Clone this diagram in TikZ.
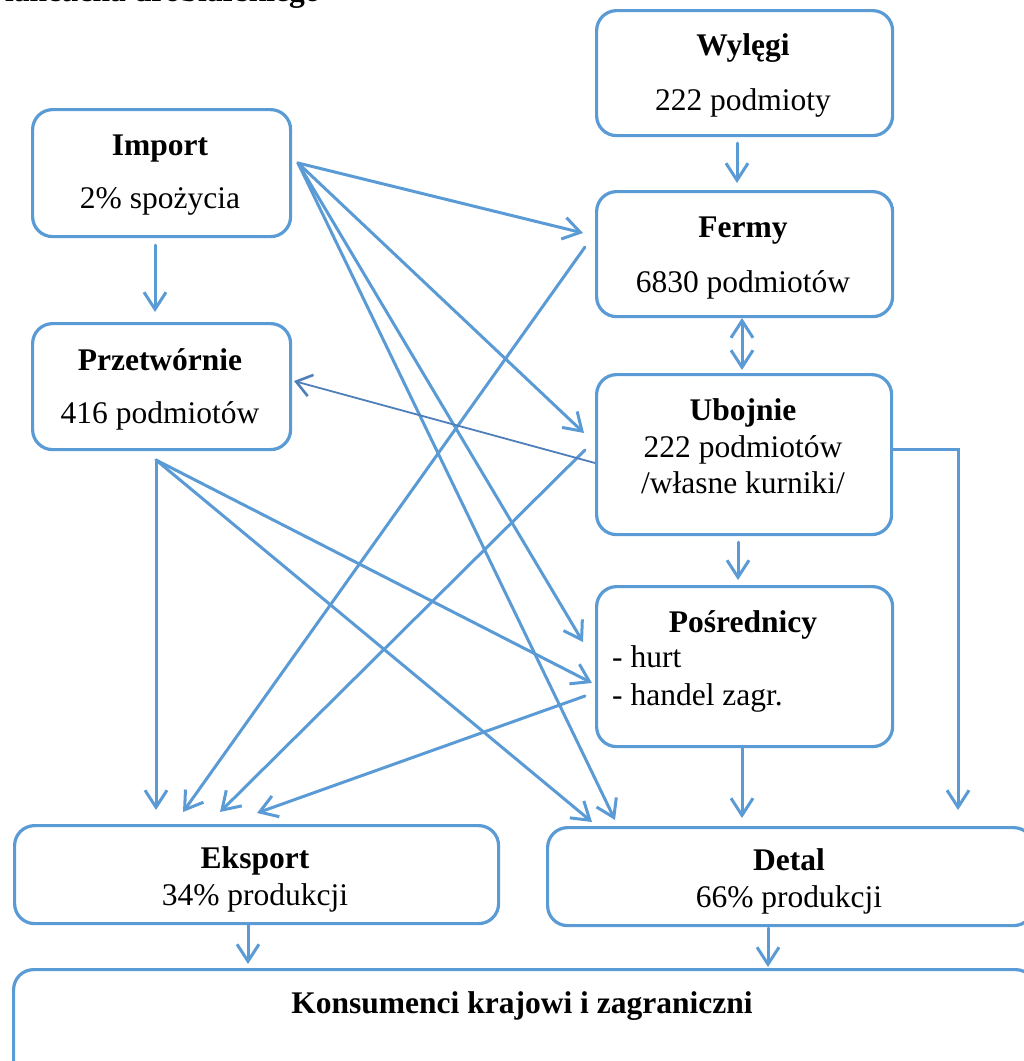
\documentclass[tikz,border=0pt]{standalone}
\usepackage{fontspec}
\setmainfont{Liberation Serif}
\usetikzlibrary{arrows.meta}
\definecolor{ob}{HTML}{5B9BD5}
\definecolor{obd}{HTML}{4F7FBA}
\begin{document}
\begin{tikzpicture}[x=1pt,y=-1pt,
  font=\fontsize{31.5}{37}\selectfont,
  box/.style={draw=ob, line width=3.2pt, rounded corners=20pt, inner sep=0pt, anchor=north west},
  lbl/.style={anchor=base, inner sep=0pt},
  hd/.style={lbl, font=\fontsize{31.5}{37}\selectfont\bfseries},
  tip/.style={Straight Barb[length=17pt,width=22pt]},
  conn/.style={draw=ob, line width=3pt, line cap=round, -{Straight Barb[length=17pt,width=22pt]}},
  thin/.style={draw=obd, line width=1.8pt, -{Straight Barb[length=15pt,width=22pt,line width=2.6pt]}}]
\useasboundingbox (0,0) rectangle (1024,1061);
% title (cut off at top)
\node[anchor=base west, inner sep=0pt, font=\fontsize{31.5}{37}\selectfont\bfseries] (title) at (5,1) {łańcucha drobiarskiego};
% boxes
\node[box, minimum width=296pt, minimum height=125pt] (wyl) at (595,9) {};
\node[box, minimum width=258pt, minimum height=127pt] (imp) at (31,108) {};
\node[box, minimum width=296pt, minimum height=125pt] (fer) at (595,190) {};
\node[box, minimum width=258pt, minimum height=126pt] (prz) at (31,322) {};
\node[box, minimum width=295pt, minimum height=160pt] (ubo) at (595,373) {};
\node[box, minimum width=296pt, minimum height=160pt] (pos) at (595,585) {};
\node[box, minimum width=484pt, minimum height=98pt] (eks) at (13,824) {};
\node[box, minimum width=486pt, minimum height=98pt] (det) at (546,826) {};
\node[box, minimum width=1022pt, minimum height=127pt] (kon) at (12,968) {};
% texts
\node[hd] (wylA) at (743,55) {Wylęgi};
\node[lbl] (wylB) at (743,110) {222 podmioty};
\node[hd] (impA) at (160,155) {Import};
\node[lbl] (impB) at (160,208) {2\% spożycia};
\node[hd] (ferA) at (743,237) {Fermy};
\node[lbl] (ferB) at (743,292) {6830 podmiotów};
\node[hd] (przA) at (160,370) {Przetwórnie};
\node[lbl] (przB) at (160,423) {416 podmiotów};
\node[hd] (uboA) at (743,420) {Ubojnie};
\node[lbl] (uboB) at (743,457) {222 podmiotów};
\node[lbl] (uboC) at (743,493) {/własne kurniki/};
\node[hd] (posA) at (743,632) {Pośrednicy};
\node[lbl, anchor=base west] (posB) at (612,667) {- hurt};
\node[lbl, anchor=base west] (posC) at (612,705) {- handel zagr.};
\node[hd] (eksA) at (255,868) {Eksport};
\node[lbl] (eksB) at (255,905) {34\% produkcji};
\node[hd] (detA) at (789,870) {Detal};
\node[lbl] (detB) at (789,907) {66\% produkcji};
\node[hd] (konA) at (522,1013) {Konsumenci krajowi i zagraniczni};
% connector end points
\coordinate (wylO) at (737,143);
\coordinate (ferI) at (737,183);
\coordinate (ferD) at (742,318);
\coordinate (uboU) at (742,370);
\coordinate (uboD) at (738,542);
\coordinate (posI) at (738,580);
\coordinate (impD) at (155,245);
\coordinate (przI) at (155,312);
\coordinate (impR) at (298,163);
\coordinate (ferL) at (583,233);
\coordinate (uboL) at (584,433);
\coordinate (posL1) at (583,642);
\coordinate (detI1) at (615,820);
\coordinate (przD) at (156,460);
\coordinate (eksI1) at (156,810);
\coordinate (posL2) at (592,683);
\coordinate (detI2) at (592,822);
\coordinate (ferO) at (585,247);
\coordinate (eksI2) at (183,812);
\coordinate (uboO) at (585,450);
\coordinate (eksI3) at (220,812);
\coordinate (uboO2) at (595,463);
\coordinate (przR) at (294,381);
\coordinate (posO) at (585,696);
\coordinate (eksI4) at (257,813);
\coordinate (posD) at (742,746);
\coordinate (detI3) at (742,818);
\coordinate (uboR) at (891,449);
\coordinate (uboRc) at (958,449);
\coordinate (detI4) at (958,810);
\coordinate (eksD) at (248,925);
\coordinate (konI1) at (248,964);
\coordinate (detD) at (768,928);
\coordinate (konI2) at (768,967);
% connectors
\draw[conn] (wylO) -- (ferI);
\draw[conn, {Straight Barb[length=17pt,width=22pt]}-{Straight Barb[length=17pt,width=22pt]}] (ferD) -- (uboU);
\draw[conn] (uboD) -- (posI);
\draw[conn] (impD) -- (przI);
\draw[conn] (impR) -- (ferL);
\draw[conn] (impR) -- (uboL);
\draw[conn] (impR) -- (posL1);
\draw[conn] (impR) -- (detI1);
\draw[conn] (przD) -- (eksI1);
\draw[conn] (przD) -- (posL2);
\draw[conn] (przD) -- (detI2);
\draw[conn] (ferO) -- (eksI2);
\draw[conn] (uboO) -- (eksI3);
\draw[thin] (uboO2) -- (przR);
\draw[conn] (posO) -- (eksI4);
\draw[conn] (posD) -- (detI3);
\draw[conn, line cap=butt] (uboR) -- (uboRc) -- (detI4);
\draw[conn] (eksD) -- (konI1);
\draw[conn] (detD) -- (konI2);
\end{tikzpicture}
\end{document}
